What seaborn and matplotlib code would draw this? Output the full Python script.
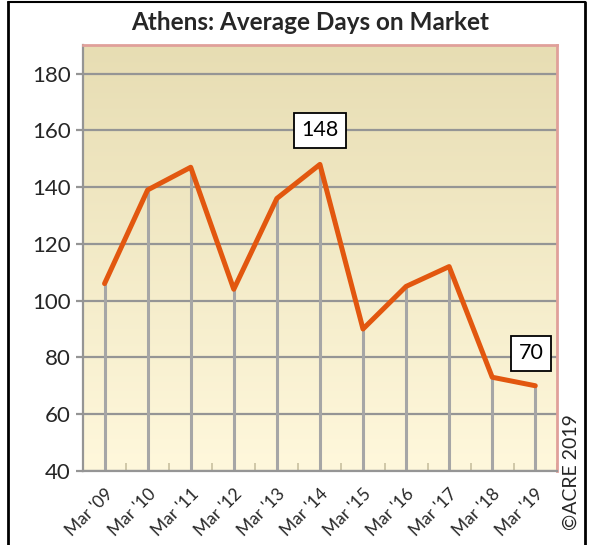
import numpy as np
import matplotlib
matplotlib.use("Agg")
import matplotlib.pyplot as plt
import seaborn as sns
import pandas as pd
from matplotlib.colors import LinearSegmentedColormap

# data
periods = ["Mar '09", "Mar '10", "Mar '11", "Mar '12", "Mar '13", "Mar '14",
           "Mar '15", "Mar '16", "Mar '17", "Mar '18", "Mar '19"]
days = [106, 139, 147, 104, 136, 148, 90, 105, 112, 73, 70]
y_ticks = [40, 60, 80, 100, 120, 140, 160, 180]
callouts = {5: "148", 10: "70"}

df = pd.DataFrame({"pos": np.arange(len(periods)), "days": days})

sns.set_theme(style="white")
plt.rcParams['font.family'] = ['Lato', 'DejaVu Sans']

fig = plt.figure(figsize=(5.93, 5.45), dpi=100)
ax = fig.add_axes([0.140, 0.136, 0.799, 0.781])

# gradient background (tan at top -> cream at bottom)
cmap = LinearSegmentedColormap.from_list("bg", ["#fff8dc", "#e7ddb3"])
grad = np.linspace(0, 1, 256).reshape(-1, 1)
ax.imshow(grad, aspect="auto", cmap=cmap, origin="lower",
          extent=[0, 1, 0, 1], transform=ax.transAxes, zorder=0)

ax.set_ylim(40, 190)
ax.set_xlim(-0.5, len(periods) - 0.5)
ax.set_yticks(y_ticks)
ax.yaxis.grid(True, color="#959595", lw=1.6, zorder=1)

# drop lines
ax.vlines(df["pos"], 40, df["days"], color="#a6a6a6", lw=2.2, zorder=2)

sns.lineplot(data=df, x="pos", y="days", ax=ax, color="#e2570f", lw=3.6,
             zorder=3, solid_capstyle="round", solid_joinstyle="round")

for i, txt in callouts.items():
    yoff = 160 if i == 5 else 81.5
    ax.text(df["pos"][i] - (0.1 if i == 10 else 0), yoff, txt, ha="center", va="center",
            fontsize=15.5, color="black", zorder=5,
            bbox=dict(boxstyle="square,pad=0.35", fc="white", ec="black", lw=1.3))

ax.set_xticks(df["pos"])
ax.set_xticklabels(periods, rotation=45, ha="right", rotation_mode="anchor", fontsize=12.5)
ax.set_xticks(np.arange(-0.5, len(periods)), minor=True)
ax.tick_params(axis="x", which="major", length=0, pad=11)
ax.tick_params(axis="x", which="minor", direction="in", length=6, color="#c8c0a0", width=1.2, bottom=True)
ax.tick_params(axis="y", length=5, color="#959595", width=1.6, labelsize=16, pad=4, left=True)
ax.set_xlabel("")
ax.set_ylabel("")

for s in ["left", "bottom"]:
    ax.spines[s].set_color("#959595")
    ax.spines[s].set_linewidth(1.6)
for s in ["top", "right"]:
    ax.spines[s].set_color("#e0a09a")
    ax.spines[s].set_linewidth(2)

fig.text(0.523, 0.958, "Athens: Average Days on Market", ha="center", va="center",
         fontsize=17.5, fontweight="bold")
fig.text(0.963, 0.028, "\u00a9ACRE 2019", rotation=90, ha="center", va="bottom", fontsize=14)

# outer frame lines
fig.add_artist(plt.Line2D([0.014, 0.014], [0, 0.996], color="black", lw=2, transform=fig.transFigure))
fig.add_artist(plt.Line2D([0.987, 0.987], [0, 0.996], color="black", lw=2, transform=fig.transFigure))
fig.add_artist(plt.Line2D([0.014, 0.987], [0.996, 0.996], color="black", lw=1.5, transform=fig.transFigure))

fig.savefig("out.png", dpi=100)
